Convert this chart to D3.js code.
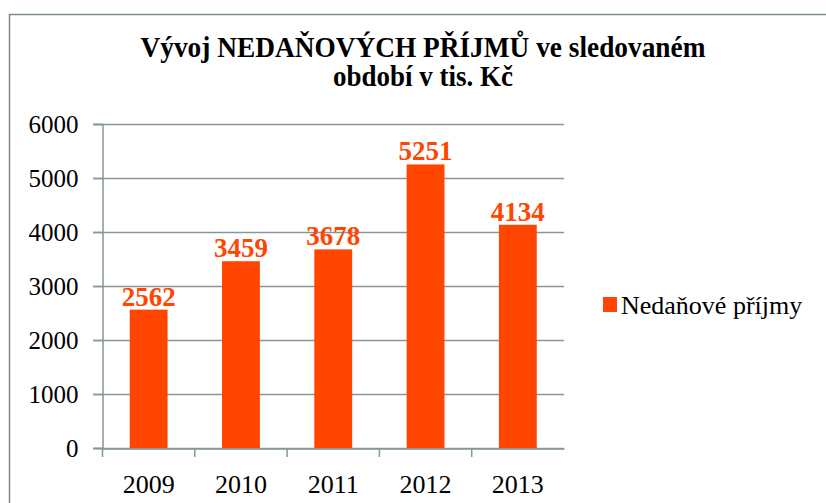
<!DOCTYPE html>
<html>
<head>
<meta charset="utf-8">
<script src="https://cdn.jsdelivr.net/npm/d3@7"></script>
<style>
  body { margin: 0; background: #fff; }
  svg { display: block; }
</style>
</head>
<body>
<div id="chart"></div>
<script>
const years = ['2009', '2010', '2011', '2012', '2013'];
const values = [2562, 3459, 3678, 5251, 4134];
const yTicks = [0, 1000, 2000, 3000, 4000, 5000, 6000];
const seriesName = 'Nedaňové příjmy';
const titleLines = ['Vývoj NEDAŇOVÝCH PŘÍJMŮ ve sledovaném', 'období v tis. Kč'];

const width = 826;
const height = 503;
const serif = 'Liberation Serif';
const barColour = '#ff4500';
const gridColour = '#879797';

const svg = d3.select('#chart').append('svg')
    .attr('width', width)
    .attr('height', height)
    .attr('font-family', serif);

// chart frame (right and bottom run off the picture)
svg.append('path')
    .attr('d', `M9.5,${height + 2}V14.5H${width + 2}`)
    .attr('fill', 'none')
    .attr('stroke', '#7a8c8c')
    .attr('stroke-width', 1.5);

// title
const titleWidths = [565, 180];
svg.selectAll('.title')
    .data(titleLines)
  .enter().append('text')
    .attr('class', 'title')
    .attr('x', 423)
    .attr('y', (d, i) => 57 + i * 29)
    .attr('text-anchor', 'middle')
    .attr('font-family', serif)
    .attr('font-size', 29)
    .attr('font-weight', 'bold')
    .attr('textLength', (d, i) => titleWidths[i])
    .attr('lengthAdjust', 'spacingAndGlyphs')
    .text(d => d);

const x = d3.scaleBand()
    .domain(years)
    .range([102.5, 564])
    .paddingInner(0.59)
    .paddingOuter(0.295);

const y = d3.scaleLinear()
    .domain([0, 6000])
    .range([448, 124]);

// gridlines
svg.append('g')
    .selectAll('line')
    .data(yTicks)
  .enter().append('line')
    .attr('x1', 93)
    .attr('x2', 564)
    .attr('y1', d => y(d) + 0.5)
    .attr('y2', d => y(d) + 0.5)
    .attr('stroke', gridColour)
    .attr('stroke-width', 1.5);

// y axis
const yAxis = svg.append('g')
    .attr('transform', 'translate(102.5,0)')
    .call(d3.axisLeft(y).tickValues(yTicks).tickSize(9).tickPadding(15).tickFormat(d3.format('d')));
yAxis.attr('font-family', serif).attr('font-size', 25);
yAxis.select('.domain').attr('stroke', gridColour).attr('stroke-width', 1.5);
yAxis.selectAll('.tick line').attr('stroke', gridColour).attr('stroke-width', 1.5);
yAxis.selectAll('text').attr('fill', '#000');

// bars
svg.append('g')
    .selectAll('rect')
    .data(values)
  .enter().append('rect')
    .attr('x', (d, i) => x(years[i]))
    .attr('width', x.bandwidth())
    .attr('y', d => y(d))
    .attr('height', d => y(0) - y(d))
    .attr('fill', barColour);

// x axis
const xAxis = svg.append('g')
    .attr('transform', `translate(0,${y(0) + 0.5})`)
    .call(d3.axisBottom(x).tickSize(0).tickPadding(26));
xAxis.attr('font-family', serif).attr('font-size', 26);
xAxis.select('.domain').attr('stroke', gridColour).attr('stroke-width', 1.5);
xAxis.selectAll('text').attr('fill', '#000');

// tick marks between the categories
const step = x.step();
const boundaries = d3.range(years.length).map(i => 102.5 + i * step);
svg.append('g')
    .selectAll('line')
    .data(boundaries)
  .enter().append('line')
    .attr('x1', d => d)
    .attr('x2', d => d)
    .attr('y1', y(0))
    .attr('y2', y(0) + 9)
    .attr('stroke', gridColour)
    .attr('stroke-width', 1.5);

// value labels
svg.append('g')
    .selectAll('text')
    .data(values)
  .enter().append('text')
    .attr('x', (d, i) => x(years[i]) + x.bandwidth() / 2)
    .attr('y', d => y(d) - 4)
    .attr('text-anchor', 'middle')
    .attr('font-family', serif)
    .attr('font-size', 27)
    .attr('font-weight', 'bold')
    .attr('fill', barColour)
    .text(d => d);

// legend
const legend = svg.append('g').attr('transform', 'translate(603,297)');
legend.append('rect')
    .attr('width', 14)
    .attr('height', 15)
    .attr('fill', barColour);
legend.append('text')
    .attr('x', 18)
    .attr('y', 17)
    .attr('font-family', serif)
    .attr('font-size', 26)
    .attr('fill', '#000')
    .text(seriesName);
</script>
</body>
</html>
